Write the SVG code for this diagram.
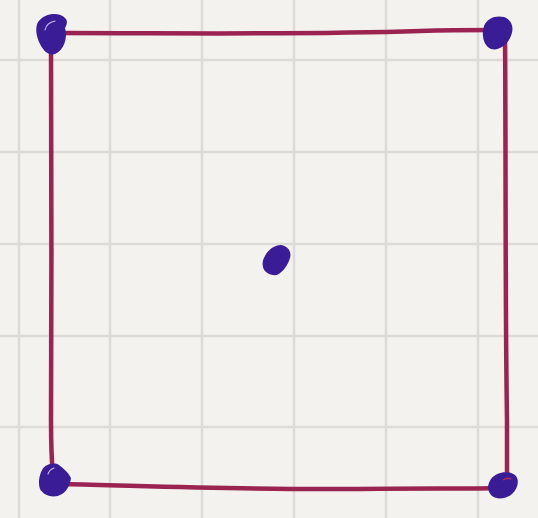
<svg xmlns="http://www.w3.org/2000/svg" width="538" height="518" viewBox="0 0 538 518">
<style>
.grid line{stroke:#dcdbd6;stroke-width:2.5}
.edge{fill:none;stroke:#9a2352;stroke-width:4.5;stroke-linecap:round;stroke-linejoin:round}
.dot{fill:#3a1c96}
.hl{fill:none;stroke:#ffffff;stroke-opacity:0.7;stroke-width:1.2;stroke-linecap:round}
</style>
<rect width="538" height="518" fill="#f3f2ef"/>
<g class="grid">
<line x1="19" y1="0" x2="19" y2="518"/>
<line x1="110" y1="0" x2="110" y2="518"/>
<line x1="202" y1="0" x2="202" y2="518"/>
<line x1="294" y1="0" x2="294" y2="518"/>
<line x1="386" y1="0" x2="386" y2="518"/>
<line x1="478" y1="0" x2="478" y2="518"/>
<line x1="0" y1="60" x2="538" y2="60"/>
<line x1="0" y1="152" x2="538" y2="152"/>
<line x1="0" y1="244" x2="538" y2="244"/>
<line x1="0" y1="336" x2="538" y2="336"/>
<line x1="0" y1="427" x2="538" y2="427"/>
</g>
<g id="connectors">
<path class="edge" d="M60,33 C180,33 300,35 420,31 C450,30 475,30 495,30"/>
<path class="edge" d="M51,40 C51,150 52,300 51,420 C51,450 52,465 53,478"/>
<path class="edge" d="M505,36 C506,150 505,300 507,420 C507,450 507,465 507,480"/>
<path class="edge" d="M64,484 C150,486 250,490 350,489 C420,488 470,489 500,488"/>
</g>
<g id="node-tl">
<path class="dot" d="M38,22 C45,12 60,12 65,18 C68,20 67,25 65,28 C68,38 64,50 55,54 C48,56 43,50 40,44 C36,36 35,28 38,22 Z"/>
<path class="hl" d="M45,30 C46,25 50,22 55,21"/>
</g>
<g id="node-tr">
<path class="dot" d="M484,26 C487,18 496,15 504,17 C512,20 515,28 510,38 C506,46 498,51 491,49 C484,46 481,36 484,26 Z"/>
</g>
<g id="node-bl">
<path class="dot" d="M42,470 C45,464 54,462 59,465 C63,468 68,472 71,478 C70,484 68,490 62,494 C54,499 44,496 40,489 C38,483 39,476 42,470 Z"/>
<path class="hl" d="M48,474 C49,471 51,469 54,468"/>
</g>
<g id="node-br">
<path class="dot" d="M491,479 C496,472 508,470 515,475 C520,480 518,488 512,494 C506,499 497,500 492,496 C487,491 487,485 491,479 Z"/>
<path d="M503,480 C506,478 509,478 511,479" stroke="#b0305a" stroke-width="1.5" fill="none"/>
</g>
<g id="node-center">
<path class="dot" d="M265,256 C268,250 274,245 281,245 C288,246 292,252 290,258 C288,265 283,272 277,275 C270,276 264,272 263,267 C262,263 263,259 265,256 Z"/>
</g>
</svg>
